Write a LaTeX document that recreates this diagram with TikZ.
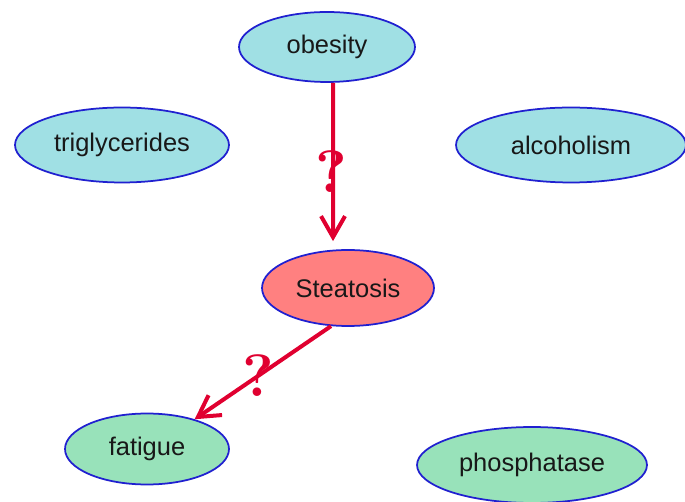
\documentclass[tikz,border=0pt]{standalone}
\usepackage{fontspec}
\setmainfont{Liberation Sans}
\usetikzlibrary{arrows.meta,shapes.geometric}
\definecolor{edgeblue}{RGB}{32,32,208}
\definecolor{causefill}{RGB}{160,224,228}
\definecolor{targetfill}{RGB}{255,128,128}
\definecolor{effectfill}{RGB}{152,226,186}
\definecolor{linkred}{RGB}{224,0,48}
\definecolor{labelink}{RGB}{24,24,24}
\tikzset{
  var/.style={ellipse, draw=edgeblue, line width=0.035cm, inner sep=0pt,
    text=labelink, font=\fontsize{14.5}{16}\selectfont},
  cause/.style={var, fill=causefill},
  target/.style={var, fill=targetfill},
  effect/.style={var, fill=effectfill},
  link/.style={draw=linkred, line width=0.08cm,
    -{Straight Barb[length=0.42cm, width=0.48cm, line width=0.08cm]}},
  query/.style={text=linkred, inner sep=0pt,
    font=\fontspec{Latin Modern Roman}\bfseries\fontsize{34}{34}\selectfont}
}
\begin{document}
\begin{tikzpicture}[x=0.02cm, y=-0.02cm]
  \useasboundingbox (0,0) rectangle (685,502);
  \clip (0,0) rectangle (685,502);
  \node[cause, minimum width=3.52cm, minimum height=1.40cm] (obesity) at (327,47) {obesity};
  \node[cause, minimum width=4.28cm, minimum height=1.50cm] (trig) at (122,145) {triglycerides};
  \node[cause, minimum width=4.60cm, minimum height=1.50cm] (alco) at (571,145) {alcoholism};
  \node[target, minimum width=3.44cm, minimum height=1.52cm] (steat) at (348,288) {Steatosis};
  \node[effect, minimum width=3.28cm, minimum height=1.42cm] (fatigue) at (147,449) {fatigue};
  \node[effect, minimum width=4.60cm, minimum height=1.52cm] (phos) at (532,465) {phosphatase};
  \draw[link] ([xshift=0.12cm]obesity.south) -- ([xshift=-0.30cm, yshift=0.16cm]steat.north);
  \draw[link] (steat.246) -- (fatigue.32);
  \node[query] (q1) at (331,172) {?};
  \node[query] (q2) at (258,376) {?};
\end{tikzpicture}
\end{document}
